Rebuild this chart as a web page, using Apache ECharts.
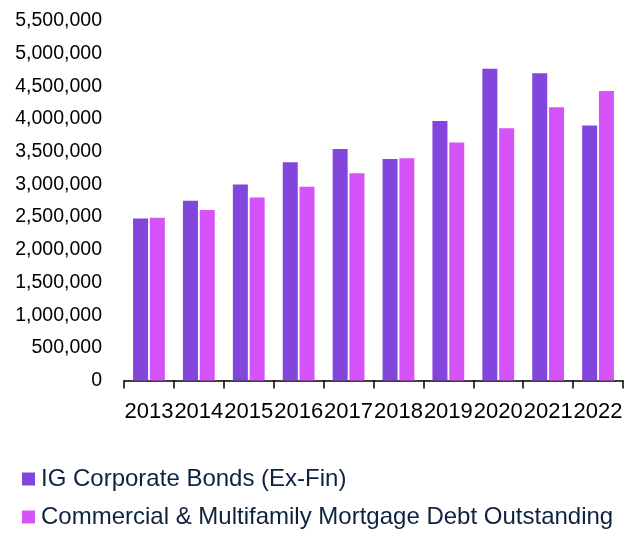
<!DOCTYPE html>
<html>
<head>
<meta charset="utf-8">
<script src="https://cdn.jsdelivr.net/npm/echarts@6/dist/echarts.min.js"></script>
<style>html,body{margin:0;padding:0;background:#fff;}#c{width:636px;height:534px;}</style>
</head>
<body>
<div id="c"></div>
<script>
var years = ['2013','2014','2015','2016','2017','2018','2019','2020','2021','2022'];
var igCorporate = [2480000, 2750000, 3000000, 3340000, 3540000, 3390000, 3970000, 4770000, 4700000, 3900000];
var cmMortgage = [2490000, 2610000, 2800000, 2965000, 3170000, 3400000, 3640000, 3860000, 4180000, 4430000];
var seriesNames = ['IG Corporate Bonds (Ex-Fin)', 'Commercial & Multifamily Mortgage Debt Outstanding'];

var FONT = "'Liberation Sans Narrow', 'Arial Narrow', 'Liberation Sans', Arial, sans-serif";
var chart = echarts.init(document.getElementById('c'), null, {renderer: 'canvas'});
var legendCommon = {
  orient: 'vertical',
  left: 17,
  icon: 'rect',
  itemWidth: 13,
  itemHeight: 13,
  textStyle: {fontFamily: FONT, fontSize: 24, color: '#0E2240', padding: [0,0,0,1]}
};
chart.setOption({
  animation: false,
  backgroundColor: '#ffffff',
  color: ['#8246DC', '#D653FA'],
  grid: {left: 124, right: 13, top: 21, bottom: 153.5, containLabel: false, outerBoundsMode: 'none'},
  legend: [
    Object.assign({}, legendCommon, {top: 462, data: [seriesNames[0]]}),
    Object.assign({}, legendCommon, {top: 500, data: [seriesNames[1]]})
  ],
  xAxis: {
    type: 'category',
    data: years,
    boundaryGap: true,
    axisLine: {show: true, lineStyle: {color: '#000', width: 1.5}},
    axisTick: {show: true, length: 8, lineStyle: {color: '#000', width: 1.5}},
    axisLabel: {interval: 0, fontFamily: FONT, fontSize: 22, color: '#000', margin: 20}
  },
  yAxis: {
    type: 'value',
    min: 0,
    max: 5500000,
    interval: 500000,
    axisLine: {show: false},
    axisTick: {show: false},
    splitLine: {show: false},
    axisLabel: {
      fontFamily: FONT, fontSize: 19.5, color: '#000', margin: 22,
      formatter: function (v) { return v.toLocaleString('en-US'); }
    }
  },
  series: [
    {name: seriesNames[0], type: 'bar', data: igCorporate, barWidth: 15, barGap: '12%'},
    {name: seriesNames[1], type: 'bar', data: cmMortgage, barWidth: 15, barGap: '12%'}
  ]
});
</script>
</body>
</html>
